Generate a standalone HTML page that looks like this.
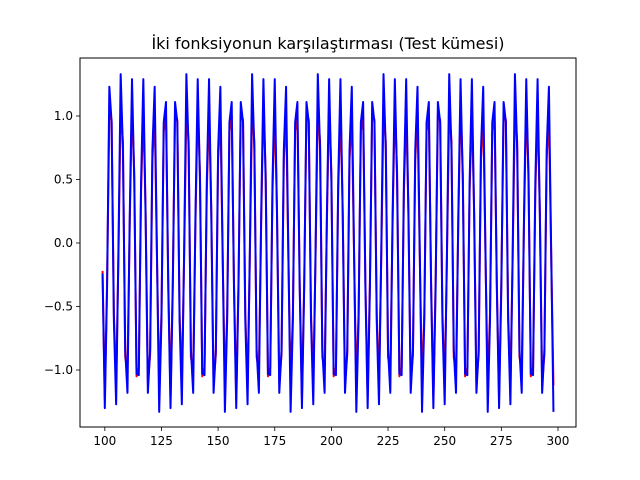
<!DOCTYPE html>
<html><head><meta charset="utf-8"><style>
body{margin:0;background:#fff;}
svg{display:block;font-family:"DejaVu Sans","Liberation Sans",sans-serif;}
</style></head><body>
<svg id="chart" width="640" height="480" viewBox="0 0 640 480">
<rect width="640" height="480" fill="#fff"/>
<text x="328" y="49" text-anchor="middle" font-size="16">İki fonksiyonun karşılaştırması (Test kümesi)</text>
<g id="plot"></g>
<g id="axes"></g>
</svg>
<script>
const xStart = 99;
const xTicks = [100,125,150,175,200,225,250,275,300];
const yTicks = [-1.0,-0.5,0.0,0.5,1.0];
const yTickLabels = ["\u22121.0","\u22120.5","0.0","0.5","1.0"];
const trueValues = [-0.22,
-1.22,-0.30,1.02,0.97,-0.55,-1.12,-0.12,1.05,0.80,-0.90,-1.00,0.15,1.10,0.55,-1.05,-0.98,0.40,1.05,0.25,-1.10,-0.88,0.65,1.02,-0.10,-1.12,-0.55,0.88,1.00,-0.30,
-1.22,-0.30,1.02,0.97,-0.55,-1.12,-0.12,1.05,0.80,-0.90,-1.00,0.15,1.10,0.55,-1.05,-0.98,0.40,1.05,0.25,-1.10,-0.88,0.65,1.02,-0.10,-1.12,-0.55,0.88,1.00,-0.30,
-1.22,-0.30,1.02,0.97,-0.55,-1.12,-0.12,1.05,0.80,-0.90,-1.00,0.15,1.10,0.55,-1.05,-0.98,0.40,1.05,0.25,-1.10,-0.88,0.65,1.02,-0.10,-1.12,-0.55,0.88,1.00,-0.30,
-1.22,-0.30,1.02,0.97,-0.55,-1.12,-0.12,1.05,0.80,-0.90,-1.00,0.15,1.10,0.55,-1.05,-0.98,0.40,1.05,0.25,-1.10,-0.88,0.65,1.02,-0.10,-1.12,-0.55,0.88,1.00,-0.30,
-1.22,-0.30,1.02,0.97,-0.55,-1.12,-0.12,1.05,0.80,-0.90,-1.00,0.15,1.10,0.55,-1.05,-0.98,0.40,1.05,0.25,-1.10,-0.88,0.65,1.02,-0.10,-1.12,-0.55,0.88,1.00,-0.30,
-1.22,-0.30,1.02,0.97,-0.55,-1.12,-0.12,1.05,0.80,-0.90,-1.00,0.15,1.10,0.55,-1.05,-0.98,0.40,1.05,0.25,-1.10,-0.88,0.65,1.02,-0.10,-1.12,-0.55,0.88,1.00,-0.30,
-1.22,-0.30,1.02,0.97,-0.55,-1.12,-0.12,1.05,0.80,-0.90,-1.00,0.15,1.10,0.55,-1.05,-0.98,0.40,1.05,0.25,-1.10,-0.88,0.65,1.02,-0.10,-1.12];
const predValues = [-0.24,
-1.30,-0.35,1.23,0.95,-0.61,-1.27,-0.07,1.33,0.73,-0.84,-1.18,0.21,1.29,0.48,-1.03,-1.04,0.48,1.29,0.21,-1.18,-0.84,0.73,1.23,-0.07,-1.33,-0.61,0.95,1.11,-0.35,
-1.30,-0.35,1.11,0.95,-0.61,-1.27,-0.07,1.33,0.73,-0.84,-1.18,0.21,1.29,0.48,-1.03,-1.04,0.48,1.29,0.21,-1.18,-0.84,0.73,1.23,-0.07,-1.33,-0.61,0.95,1.11,-0.35,
-1.30,-0.35,1.11,0.95,-0.61,-1.27,-0.07,1.33,0.73,-0.84,-1.18,0.21,1.29,0.48,-1.03,-1.04,0.48,1.29,0.21,-1.18,-0.84,0.73,1.23,-0.07,-1.33,-0.61,0.95,1.11,-0.35,
-1.30,-0.35,1.11,0.95,-0.61,-1.27,-0.07,1.33,0.73,-0.84,-1.18,0.21,1.29,0.48,-1.03,-1.04,0.48,1.29,0.21,-1.18,-0.84,0.73,1.23,-0.07,-1.33,-0.61,0.95,1.11,-0.35,
-1.30,-0.35,1.11,0.95,-0.61,-1.27,-0.07,1.33,0.73,-0.84,-1.18,0.21,1.29,0.48,-1.03,-1.04,0.48,1.29,0.21,-1.18,-0.84,0.73,1.23,-0.07,-1.33,-0.61,0.95,1.11,-0.35,
-1.30,-0.35,1.11,0.95,-0.61,-1.27,-0.07,1.33,0.73,-0.84,-1.18,0.21,1.29,0.48,-1.03,-1.04,0.48,1.29,0.21,-1.18,-0.84,0.73,1.23,-0.07,-1.33,-0.61,0.95,1.11,-0.35,
-1.30,-0.35,1.11,0.95,-0.61,-1.27,-0.07,1.33,0.73,-0.84,-1.18,0.21,1.29,0.48,-1.03,-1.04,0.48,1.29,0.21,-1.18,-0.84,0.73,1.23,-0.07,-1.33];

const L=80,R=576,T=58,B=427;
const xMin=89.05,xMax=307.95;
function sx(v){return L+(v-xMin)/(xMax-xMin)*(R-L);}
function sy(v){return 243-v*127;}
const NS="http://www.w3.org/2000/svg";
const plot=document.getElementById('plot');
const axes=document.getElementById('axes');
function mk(tag,attrs,parent){const e=document.createElementNS(NS,tag);for(const k in attrs)e.setAttribute(k,attrs[k]);parent.appendChild(e);return e;}
function series(vals,color,name){
  let d='';
  vals.forEach((v,i)=>{d+=(i?'L':'M')+sx(xStart+i).toFixed(2)+','+sy(v).toFixed(2);});
  const p=mk('path',{d:d,fill:'none',stroke:color,'stroke-width':2,'stroke-linejoin':'round'},plot);
  
  
}
series(trueValues,'#ff0000','true-function-line');
series(predValues,'#0000ff','predicted-function-line');

const frame=mk('rect',{x:L,y:T,width:R-L,height:B-T,fill:'none',stroke:'#000','stroke-width':1},axes);


xTicks.forEach(t=>{
  const x=sx(t);
  const tk=mk('line',{x1:x,x2:x,y1:B,y2:B+4,stroke:'#000','stroke-width':0.8},axes);
  
  
  const lb=mk('text',{x:x,y:B+18,'text-anchor':'middle','font-size':12},axes);
  lb.textContent=String(t);
  
  
});
yTicks.forEach((t,i)=>{
  const y=sy(t);
  const tk=mk('line',{x1:L-4,x2:L,y1:y,y2:y,stroke:'#000','stroke-width':0.8},axes);
  
  
  const lb=mk('text',{x:L-7,y:y+4,'text-anchor':'end','font-size':12},axes);
  lb.textContent=yTickLabels[i];
  
  
});
</script>
</body></html>
